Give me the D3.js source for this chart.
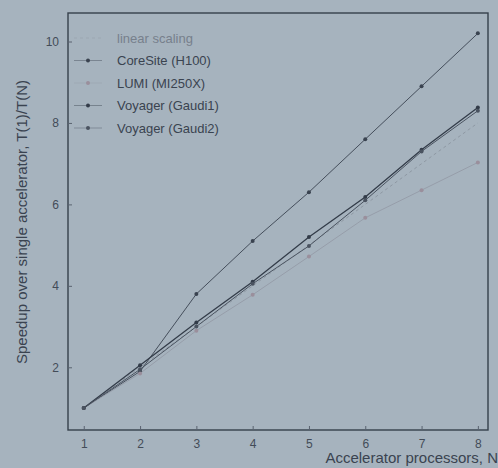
<!DOCTYPE html>
<html><head><meta charset="utf-8">
<script src="https://cdn.jsdelivr.net/npm/d3@7"></script>
<style>
html,body{margin:0;padding:0;background:#a6b3be;}
svg{display:block;}
text{font-family:"Liberation Sans",Arial,sans-serif;}
</style></head>
<body><svg id="c" width="498" height="468"></svg>
<script>
const procs = [1,2,3,4,5,6,7,8];
const linearScaling = [1,2,3,4,5,6,7,8];
const coreSite = [1,1.9,3.8,5.1,6.3,7.6,8.9,10.2];
const lumi = [1,1.85,2.9,3.78,4.72,5.67,6.35,7.03];
const gaudi1 = [1,2.05,3.1,4.1,5.2,6.18,7.34,8.38];
const gaudi2 = [1,1.95,3.0,4.05,4.98,6.1,7.3,8.3];
const xTicks = [1,2,3,4,5,6,7,8];
const yTicks = [2,4,6,8,10];
const seriesNames = ["linear scaling","CoreSite (H100)","LUMI (MI250X)","Voyager (Gaudi1)","Voyager (Gaudi2)"];

const series = [
  {name:seriesNames[0], vals:linearScaling, color:"#8e98a3", dash:"3,3", marker:false, w:1},
  {name:seriesNames[1], vals:coreSite, color:"#3a4350", dash:null, marker:true, w:0.9},
  {name:seriesNames[2], vals:lumi, color:"#949ba7", dash:null, marker:true, w:0.9, mcolor:"#9a8f9c"},
  {name:seriesNames[3], vals:gaudi1, color:"#333c49", dash:null, marker:true, w:1.3},
  {name:seriesNames[4], vals:gaudi2, color:"#4a5360", dash:null, marker:true, w:1}
];

const svg = d3.select("#c");
const L=68,R=488,T=13,B=430;
const x = d3.scaleLinear().domain([0.72,8.18]).range([L,R]);
const y = d3.scaleLinear().domain([0.46,10.7]).range([B,T]);

svg.append("rect").attr("x",L).attr("y",T).attr("width",R-L).attr("height",B-T)
  .attr("fill","none").attr("stroke","#36404b").attr("stroke-width",1.4);

const xa = svg.append("g").attr("transform",`translate(0,${B})`)
  .call(d3.axisBottom(x).tickValues(xTicks).tickFormat(d3.format("d")).tickSize(-4).tickPadding(9));
const ya = svg.append("g").attr("transform",`translate(${L},0)`)
  .call(d3.axisLeft(y).tickValues(yTicks).tickFormat(d3.format("d")).tickSize(-4).tickPadding(9));
[xa,ya].forEach(a=>{
  a.select(".domain").remove();
  a.selectAll(".tick line").attr("stroke","#5a6370");
  a.selectAll(".tick text").attr("fill","#434c58").style("font-size","12px");
});

const line = d3.line().x((d,i)=>x(procs[i])).y(d=>y(d));
series.forEach(s=>{
  svg.append("path").datum(s.vals).attr("d",line).attr("fill","none")
    .attr("stroke",s.color).attr("stroke-width",s.w).attr("stroke-dasharray",s.dash);
  if(s.marker){
    svg.selectAll(null).data(s.vals).enter().append("circle")
      .attr("cx",(d,i)=>x(procs[i])).attr("cy",d=>y(d)).attr("r",2)
      .attr("fill",s.mcolor||s.color);
  }
});

const lg = svg.append("g");
series.forEach((s,i)=>{
  const yy = 38 + i*22.5;
  lg.append("line").attr("x1",74).attr("x2",102).attr("y1",yy).attr("y2",yy)
    .attr("stroke",s.color).attr("stroke-width",1).attr("stroke-dasharray",s.dash).attr("opacity",0.4);
  if(s.marker) lg.append("circle").attr("cx",88).attr("cy",yy).attr("r",2).attr("fill",s.mcolor||s.color);
  lg.append("text").attr("x",117).attr("y",yy+4.5).text(s.name)
    .attr("fill", i===0?"#77808c":"#3a4350").style("font-size","13px");
});

svg.append("text").attr("transform","translate(27,222) rotate(-90)").attr("text-anchor","middle")
  .attr("fill","#3a4350").style("font-size","15px").text("Speedup over single accelerator, T(1)/T(N)");
svg.append("text").attr("x",498).attr("y",463).attr("text-anchor","end")
  .attr("fill","#3a4350").style("font-size","15px").text("Accelerator processors, N");
</script></body></html>
